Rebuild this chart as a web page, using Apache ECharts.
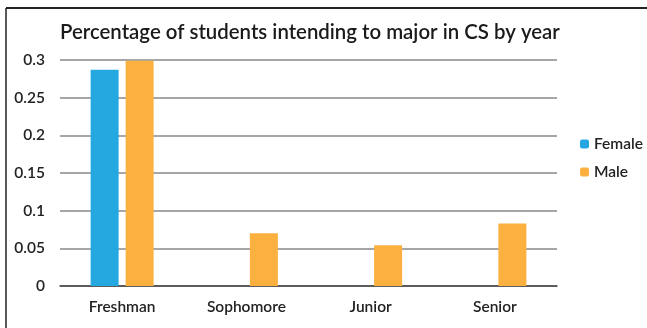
<!DOCTYPE html>
<html><head><meta charset="utf-8">
<script src="https://cdn.jsdelivr.net/npm/echarts@6/dist/echarts.min.js"></script>
<style>html,body{margin:0;padding:0;background:#fff}#c{width:647px;height:328px}</style>
</head><body><div id="c"></div>
<script>
var categories = ['Freshman', 'Sophomore', 'Junior', 'Senior'];
var femaleValues = [0.287, null, null, null];
var maleValues = [0.299, 0.070, 0.054, 0.083];
var yTicks = [0, 0.05, 0.1, 0.15, 0.2, 0.25, 0.3];

var chart = echarts.init(document.getElementById('c'));
var font = 'Lato, "Noto Sans", sans-serif';
chart.setOption({
  animation: false,
  title: {
    text: 'Percentage of students intending to major in CS by year',
    left: 55, top: 17,
    textStyle: {fontFamily: font, fontSize: 20.4, fontWeight: 600, color: '#1a1a1a'}
  },
  legend: {
    orient: 'vertical', left: 575, top: 131, itemWidth: 9, itemHeight: 9, itemGap: 12,
    textStyle: {fontFamily: font, fontSize: 15.5, fontWeight: 600, color: '#222'},
    data: ['Female', 'Male']
  },
  grid: {left: 60, right: 90, top: 60, bottom: 42},
  xAxis: {
    type: 'category', data: categories,
    axisLine: {lineStyle: {color: '#444', width: 1.5}},
    axisTick: {show: false},
    axisLabel: {fontFamily: font, fontSize: 15.5, fontWeight: 600, color: '#222', margin: 13}
  },
  yAxis: {
    type: 'value', min: 0, max: 0.3, interval: 0.05,
    axisLabel: {fontFamily: font, fontSize: 15.5, fontWeight: 600, color: '#222', margin: 15,
      formatter: function (v) { var r = yTicks.find(function (t) { return Math.abs(t - v) < 1e-9; }); return String(r); }},
    splitLine: {lineStyle: {color: '#888', width: 1.5}},
    axisLine: {show: false}, axisTick: {show: false}
  },
  series: [
    {name: 'Female', type: 'bar', data: femaleValues, barWidth: 28, barGap: '25%', itemStyle: {color: '#25a8e0'}},
    {name: 'Male', type: 'bar', data: maleValues, barWidth: 28, itemStyle: {color: '#fbb040'}}
  ],
  graphic: [
    {type: 'line', shape: {x1: 6, y1: 8, x2: 647, y2: 8}, style: {stroke: '#222', lineWidth: 2}},
    {type: 'line', shape: {x1: 6, y1: 8, x2: 6, y2: 328}, style: {stroke: '#222', lineWidth: 1.5}}
  ]
});
</script></body></html>
